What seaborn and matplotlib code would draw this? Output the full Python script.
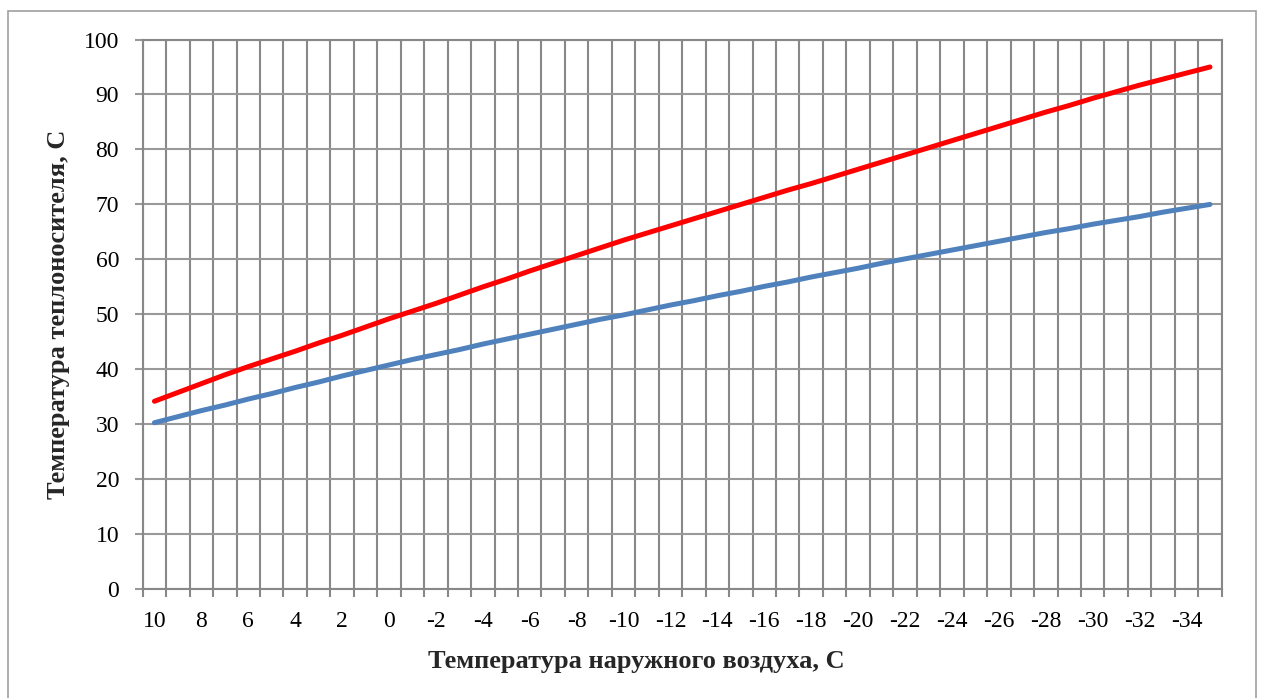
import numpy as np
import pandas as pd
import matplotlib
matplotlib.use("Agg")
import matplotlib.pyplot as plt
from matplotlib.patches import Rectangle
import seaborn as sns

# ---- data ----
outdoor_temp = list(range(10, -36, -1))  # 10 .. -35
supply_temp = [34.2, 35.8, 37.4, 39.0, 40.5, 41.9, 43.3, 44.8, 46.2, 47.7,
               49.2, 50.6, 52.0, 53.5, 55.0, 56.4, 57.9, 59.3, 60.7, 62.1,
               63.5, 64.8, 66.1, 67.4, 68.7, 70.0, 71.3, 72.6, 73.8, 75.1,
               76.4, 77.7, 79.0, 80.3, 81.6, 82.9, 84.2, 85.5, 86.8, 88.0,
               89.3, 90.5, 91.7, 92.8, 93.9, 95.0]
return_temp = [30.3, 31.4, 32.5, 33.5, 34.6, 35.6, 36.7, 37.7, 38.8, 39.8,
               40.8, 41.8, 42.7, 43.6, 44.6, 45.5, 46.4, 47.3, 48.2, 49.1,
               49.9, 50.8, 51.7, 52.5, 53.4, 54.2, 55.1, 55.9, 56.8, 57.6,
               58.4, 59.3, 60.1, 60.9, 61.7, 62.5, 63.3, 64.1, 64.9, 65.6,
               66.4, 67.1, 67.8, 68.6, 69.3, 70.0]
x_tick_labels = [str(v) for v in range(10, -35, -2)]
y_ticks = list(range(0, 101, 10))
x_label = "Температура наружного воздуха, С"
y_label = "Температура теплоносителя, С"

df = pd.DataFrame({"t": outdoor_temp, "supply": supply_temp, "ret": return_temp})

sns.set_theme(style="white")
plt.rcParams["font.family"] = ["Liberation Serif", "DejaVu Serif"]

W, H = 1261, 698
fig = plt.figure(figsize=(W / 100, H / 100), dpi=100)
ax = fig.add_axes([142.7 / W, 1 - 589.3 / H, (1221.7 - 142.7) / W, (589.3 - 39.5) / H])

# outer chart border
fig.patches.append(Rectangle((8 / W, -0.02), (1256 - 8) / W, 1 - 10.5 / H + 0.02,
                             transform=fig.transFigure, fill=False,
                             edgecolor="#a0a0a0", linewidth=1.2, zorder=0))

sns.lineplot(data=df, x="t", y="ret", ax=ax, color="#4F81BD", linewidth=3.6,
             solid_capstyle="round", zorder=3)
sns.lineplot(data=df, x="t", y="supply", ax=ax, color="#FF0000", linewidth=3.6,
             solid_capstyle="round", zorder=4)

ax.set_xlim(10.5, -35.5)
ax.set_ylim(0, 100)

grid_c = "#888888"
# vertical grid at category boundaries (minor ticks)
boundaries = [v + 0.5 for v in outdoor_temp] + [outdoor_temp[-1] - 0.5]
ax.set_xticks(boundaries, minor=True)
ax.set_xticks([int(s) for s in x_tick_labels])
ax.set_xticklabels(x_tick_labels)
ax.set_yticks(y_ticks)
ax.set_yticklabels([str(v) for v in y_ticks])

ax.grid(False)
ax.xaxis.grid(True, which="minor", color=grid_c, linewidth=1.5)
ax.yaxis.grid(True, which="major", color="#999999", linewidth=1.5)
ax.set_axisbelow(True)

ax.tick_params(axis="x", which="major", length=0, pad=15.5, labelsize=17, colors="black")
ax.tick_params(axis="x", which="minor", length=6, width=1.5, color=grid_c, direction="out")
ax.tick_params(axis="y", which="major", length=6, width=1.5, color="#999999",
               direction="out", pad=11, labelsize=17, labelcolor="black")
ax.xaxis.set_ticks_position("bottom")
ax.yaxis.set_ticks_position("left")
ax.tick_params(axis="x", which="minor", bottom=True)

for s in ax.spines.values():
    s.set_color(grid_c)
    s.set_linewidth(1.5)

ax.set_xlabel(x_label, fontsize=19, fontweight="bold")
ax.set_ylabel(y_label, fontsize=19, fontweight="bold")
ax.xaxis.set_label_coords((636 - 142.7) / 1079.0, (589.3 - 650) / 549.8)
ax.yaxis.set_label_coords((70 - 142.7) / 1079.0, 0.5)

fig.savefig("out.png", dpi=100)
